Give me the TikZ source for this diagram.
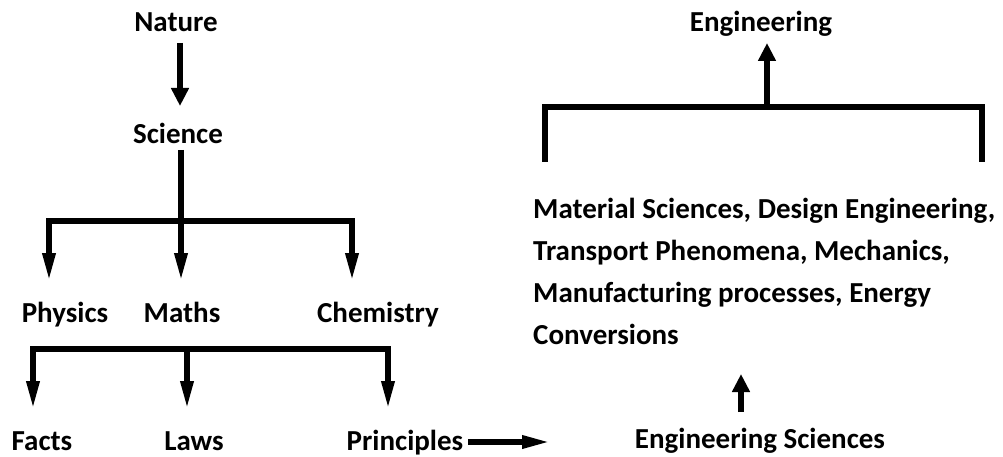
\documentclass[tikz,border=0pt]{standalone}
\usepackage{fontspec}
\setmainfont{Carlito}
\usetikzlibrary{arrows.meta}
\begin{document}
\begin{tikzpicture}[x=1pt,y=-1pt,
  lbl/.style={font=\fontsize{29}{42}\selectfont\bfseries, inner sep=0pt, anchor=base},
  conn/.style={line width=6pt},
  arr/.style={line width=6pt, -{Triangle[length=29pt,width=12pt]}},
  arrs/.style={line width=6pt, -{Triangle[length=18pt,width=17pt]}}]
\useasboundingbox (0,0) rectangle (1003,457);
\node[lbl] (nature) at (176,32) {Nature};
\node[lbl] (science) at (178,144) {Science};
\node[lbl] (physics) at (65,322) {Physics};
\node[lbl] (maths) at (182,322) {Maths};
\node[lbl] (chem) at (378,322) {Chemistry};
\node[lbl] (facts) at (42,450) {Facts};
\node[lbl] (laws) at (194,450) {Laws};
\node[lbl] (princ) at (405,450) {Principles};
\node[lbl] (engsci) at (760,448) {Engineering Sciences};
\node[lbl] (eng) at (761,32) {Engineering};
\node[lbl, align=left, anchor=base west] (list) at (533,344) {Material Sciences, Design Engineering,\\Transport Phenomena, Mechanics,\\Manufacturing processes, Energy\\Conversions};
% Nature -> Science
\coordinate (n1) at (180,43);
\coordinate (n2) at (180,106);
\draw[arrs] (n1) -- (n2);
% Science bracket
\coordinate (s0) at (181,150);
\coordinate (b1) at (49,221);
\coordinate (b2) at (181,221);
\coordinate (b3) at (352,221);
\coordinate (t1) at (49,282);
\coordinate (t2) at (181,282);
\coordinate (t3) at (352,282);
\draw[conn] (s0) -- (b2);
\draw[conn, line cap=rect] (b1) -- (b3);
\draw[arr] (b1) -- (t1);
\draw[arr] (b2) -- (t2);
\draw[arr] (b3) -- (t3);
% second bracket
\coordinate (c1) at (33,349);
\coordinate (c2) at (187,349);
\coordinate (c3) at (388,349);
\coordinate (u1) at (33,410);
\coordinate (u2) at (187,410);
\coordinate (u3) at (388,410);
\draw[conn, line cap=rect] (c1) -- (c3);
\draw[arr] (c1) -- (u1);
\draw[arr] (c2) -- (u2);
\draw[arr] (c3) -- (u3);
% Principles -> Engineering Sciences
\coordinate (p1) at (468,442);
\coordinate (p2) at (551,442);
\draw[arr] (p1) -- (p2);
% Engineering Sciences -> list
\coordinate (e1) at (741,412);
\coordinate (e2) at (741,374);
\draw[arrs] (e1) -- (e2);
% top bracket
\coordinate (k1) at (545,162);
\coordinate (k2) at (545,107);
\coordinate (k3) at (767,107);
\coordinate (k4) at (982,107);
\coordinate (k5) at (982,162);
\coordinate (k6) at (767,43);
\draw[conn] (k1) -- (k2) -- (k4) -- (k5);
\draw[arrs] (k3) -- (k6);
\end{tikzpicture}
\end{document}
